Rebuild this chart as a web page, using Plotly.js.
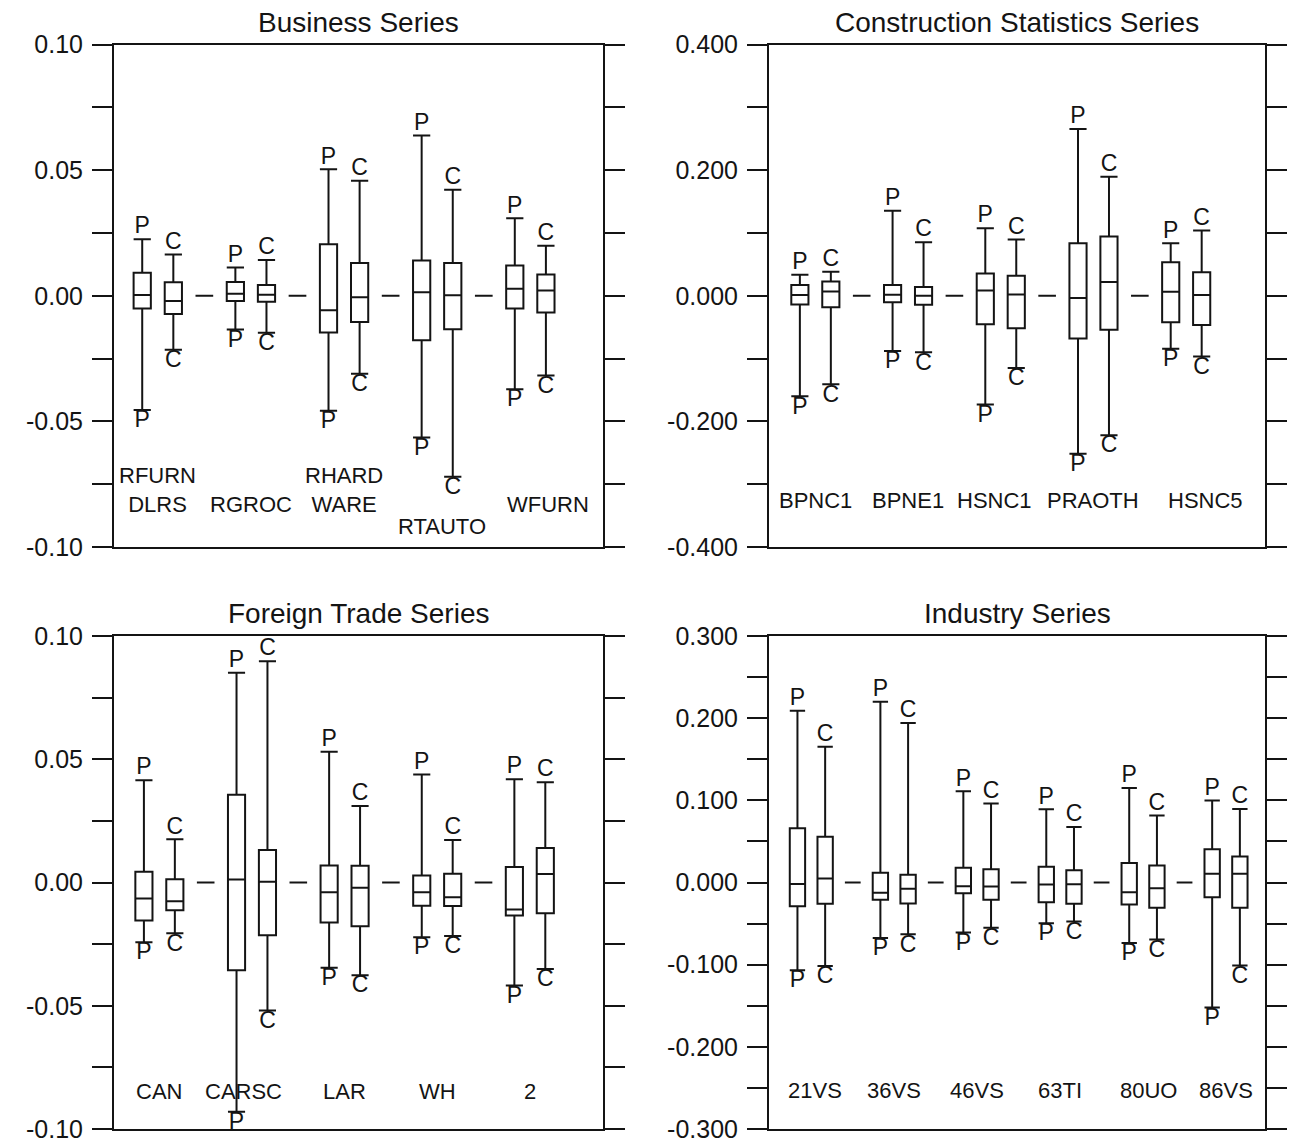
<!DOCTYPE html>
<html>
<head>
<meta charset="utf-8">
<script src="https://cdn.plot.ly/plotly-3.0.1.min.js"></script>
<style>
  html, body { margin: 0; padding: 0; background: #fff; }
  #chart { width: 1301px; height: 1146px; }
</style>
</head>
<body>
<div id="chart"></div>
<script>
// Each row: [lower whisker, Q1, median, Q3, upper whisker]
const businessSeries = ['RFURN<br>DLRS', 'RGROC', 'RHARD<br>WARE', 'RTAUTO', 'WFURN'];
const businessP = [
  [-0.0455, -0.0051, 0.0003, 0.0092, 0.0225],
  [-0.0134, -0.0021, 0.0008, 0.0055, 0.0112],
  [-0.0458, -0.0146, -0.0058, 0.0205, 0.0503],
  [-0.0564, -0.0177, 0.0014, 0.0140, 0.0638],
  [-0.0372, -0.0051, 0.0028, 0.0120, 0.0308]
];
const businessC = [
  [-0.0215, -0.0073, -0.0021, 0.0054, 0.0164],
  [-0.0147, -0.0024, 0.0004, 0.0043, 0.0142],
  [-0.0310, -0.0104, -0.0006, 0.0130, 0.0458],
  [-0.0720, -0.0133, 0.0002, 0.0130, 0.0422],
  [-0.0317, -0.0067, 0.0021, 0.0085, 0.0199]
];

const constructionSeries = ['BPNC1', 'BPNE1', 'HSNC1', 'PRAOTH', 'HSNC5'];
const constructionP = [
  [-0.160, -0.0140, 0.0010, 0.0170, 0.0335],
  [-0.088, -0.0105, 0.0015, 0.0170, 0.1355],
  [-0.173, -0.0455, 0.0085, 0.0355, 0.1075],
  [-0.2515, -0.0680, -0.0035, 0.0835, 0.2655],
  [-0.0845, -0.0420, 0.0063, 0.0535, 0.0835]
];
const constructionC = [
  [-0.141, -0.0184, 0.0066, 0.0225, 0.0383],
  [-0.090, -0.0143, 0.0000, 0.0140, 0.0853],
  [-0.115, -0.0516, 0.0020, 0.0320, 0.0895],
  [-0.222, -0.0540, 0.0220, 0.0945, 0.1895],
  [-0.0967, -0.0466, 0.0010, 0.0375, 0.1040]
];

const foreignSeries = ['CAN', 'CARSC', 'LAR', 'WH', '2'];
const foreignP = [
  [-0.0242, -0.0154, -0.0065, 0.0044, 0.0415],
  [-0.0930, -0.0356, 0.0012, 0.0356, 0.0851],
  [-0.0346, -0.0162, -0.0040, 0.0069, 0.0530],
  [-0.0222, -0.0094, -0.0040, 0.0028, 0.0438],
  [-0.0418, -0.0134, -0.0110, 0.0063, 0.0419]
];
const foreignC = [
  [-0.0206, -0.0113, -0.0076, 0.0013, 0.0175],
  [-0.0519, -0.0214, 0.0003, 0.0132, 0.0898],
  [-0.0376, -0.0177, -0.0021, 0.0068, 0.0310],
  [-0.0217, -0.0095, -0.0060, 0.0035, 0.0172],
  [-0.0351, -0.0125, 0.0034, 0.0140, 0.0407]
];

const industrySeries = ['21VS', '36VS', '46VS', '63TI', '80UO', '86VS'];
const industryP = [
  [-0.1067, -0.0290, -0.0018, 0.0660, 0.2090],
  [-0.0675, -0.0210, -0.0125, 0.0120, 0.2200],
  [-0.0610, -0.0130, -0.0045, 0.0180, 0.1110],
  [-0.0495, -0.0240, -0.0025, 0.0193, 0.0890],
  [-0.0735, -0.0268, -0.0120, 0.0237, 0.1150],
  [-0.1520, -0.0179, 0.0107, 0.0405, 0.0998]
];
const industryC = [
  [-0.1016, -0.0259, 0.0048, 0.0558, 0.1653],
  [-0.0630, -0.0255, -0.0075, 0.0095, 0.1940],
  [-0.0550, -0.0210, -0.0050, 0.0160, 0.0960],
  [-0.0475, -0.0260, -0.0022, 0.0150, 0.0675],
  [-0.0695, -0.0307, -0.0070, 0.0206, 0.0815],
  [-0.1010, -0.0307, 0.0107, 0.0316, 0.0896]
];

// Axis tick values and labels (unlabelled ticks in between)
const pctTickVals = [-0.1, -0.075, -0.05, -0.025, 0, 0.025, 0.05, 0.075, 0.1];
const pctTickText = ['-0.10', '', '-0.05', '', '0.00', '', '0.05', '', '0.10'];
const constructionTickVals = [-0.4, -0.3, -0.2, -0.1, 0, 0.1, 0.2, 0.3, 0.4];
const constructionTickText = ['-0.400', '', '-0.200', '', '0.000', '', '0.200', '', '0.400'];
const industryTickVals = [-0.3, -0.25, -0.2, -0.15, -0.1, -0.05, 0, 0.05, 0.1, 0.15, 0.2, 0.25, 0.3];
const industryTickText = ['-0.300', '', '-0.200', '', '-0.100', '', '0.000', '', '0.100', '', '0.200', '', '0.300'];

const INK = '#141414';
const FONT = '"Liberation Sans", Arial, Helvetica, sans-serif';
const W = 1301, H = 1146;
const OFFSET = 0.167;   // P box left of group centre, C box right
const BOX_W = 0.185;
const DASH_HALF = 0.095;

const leftDom = [114 / W, 603 / W];
const rightDom = [769 / W, 1265 / W];
const topDom = [1 - 547 / H, 1 - 44.5 / H];
const botDom = [1 - 1129 / H, 1 - 636 / H];

const panels = [
  { title: 'Business Series', names: businessSeries, P: businessP, C: businessC,
    tickVals: pctTickVals, tickText: pctTickText, yRange: [-0.1, 0.1], xRange: [-0.47, 4.78],
    xDom: leftDom, yDom: topDom, labelY: 0.055, titleY: 1 - 22 / H,
    labelShift: { 3: [5, -22], 4: [18, 0] } },
  { title: 'Construction Statistics Series', names: constructionSeries, P: constructionP, C: constructionC,
    tickVals: constructionTickVals, tickText: constructionTickText, yRange: [-0.4, 0.4], xRange: [-0.5, 4.85],
    xDom: rightDom, yDom: topDom, labelY: 0.064, titleY: 1 - 22 / H,
    labelShift: { 2: [-6, 0], 4: [19, 0] } },
  { title: 'Foreign Trade Series', names: foreignSeries, P: foreignP, C: foreignC,
    tickVals: pctTickVals, tickText: pctTickText, yRange: [-0.1, 0.1], xRange: [-0.49, 4.79],
    xDom: leftDom, yDom: botDom, labelY: 0.046, titleY: 1 - 613 / H,
    labelShift: { 1: [-8, 0] } },
  { title: 'Industry Series', names: industrySeries, P: industryP, C: industryC,
    tickVals: industryTickVals, tickText: industryTickText, yRange: [-0.3, 0.3], xRange: [-0.51, 5.47],
    xDom: rightDom, yDom: botDom, labelY: 0.049, titleY: 1 - 613 / H,
    labelShift: { 0: [4, 0], 4: [5, 0] } }
];

const traces = [];
const annotations = [];
const layout = {
  width: W, height: H,
  margin: { l: 0, r: 0, t: 0, b: 0 },
  paper_bgcolor: '#fff', plot_bgcolor: '#fff',
  showlegend: false,
  boxmode: 'overlay',
  font: { family: FONT, color: INK },
  annotations: annotations
};

function boxTrace(rows, xs, ax) {
  return {
    type: 'box', orientation: 'v',
    x: xs,
    lowerfence: rows.map(r => r[0]),
    q1: rows.map(r => r[1]),
    median: rows.map(r => r[2]),
    q3: rows.map(r => r[3]),
    upperfence: rows.map(r => r[4]),
    width: BOX_W, whiskerwidth: 1,
    boxpoints: false,
    line: { color: INK, width: 2 },
    fillcolor: 'rgba(255,255,255,0)',
    hoverinfo: 'skip',
    xaxis: 'x' + ax, yaxis: 'y' + ax
  };
}

function endLabels(rows, xs, letter, ax) {
  const common = {
    type: 'scatter', mode: 'text', x: xs, cliponaxis: false,
    text: xs.map(() => letter),
    textfont: { family: FONT, size: 23, color: INK },
    hoverinfo: 'skip', xaxis: 'x' + ax, yaxis: 'y' + ax
  };
  return [
    Object.assign({}, common, { y: rows.map(r => r[4]), textposition: 'top center' }),
    Object.assign({}, common, { y: rows.map(r => r[0]), textposition: 'bottom center' })
  ];
}

panels.forEach((p, k) => {
  const ax = k === 0 ? '' : String(k + 1);
  const n = p.names.length;
  const xsP = p.names.map((_, i) => i - OFFSET);
  const xsC = p.names.map((_, i) => i + OFFSET);

  traces.push(boxTrace(p.P, xsP, ax));
  traces.push(boxTrace(p.C, xsC, ax));
  traces.push(...endLabels(p.P, xsP, 'P', ax));
  traces.push(...endLabels(p.C, xsC, 'C', ax));

  // short zero-level dashes between neighbouring groups
  const dx = [], dy = [];
  for (let i = 0; i < n - 1; i++) {
    dx.push(i + 0.5 - DASH_HALF, i + 0.5 + DASH_HALF, null);
    dy.push(0, 0, null);
  }
  traces.push({
    type: 'scatter', mode: 'lines', x: dx, y: dy,
    line: { color: INK, width: 2 }, hoverinfo: 'skip',
    xaxis: 'x' + ax, yaxis: 'y' + ax
  });

  layout['xaxis' + ax] = {
    domain: p.xDom, range: p.xRange, anchor: 'y' + ax,
    showline: true, linecolor: INK, linewidth: 2, mirror: true,
    ticks: '', showticklabels: false, showgrid: false, zeroline: false, fixedrange: true
  };
  layout['yaxis' + ax] = {
    domain: p.yDom, range: p.yRange, anchor: 'x' + ax,
    tickmode: 'array', tickvals: p.tickVals, ticktext: p.tickText,
    ticks: 'outside', ticklen: 20, tickwidth: 2, tickcolor: INK,
    showline: true, linecolor: INK, linewidth: 2, mirror: 'allticks',
    showgrid: false, zeroline: false, fixedrange: true,
    ticklabelstandoff: 4, ticklabeloverflow: 'allow',
    tickfont: { family: FONT, size: 25, color: INK }
  };

  annotations.push({
    text: p.title, xref: 'paper', yref: 'paper',
    x: (p.xDom[0] + p.xDom[1]) / 2, y: p.titleY,
    xanchor: 'center', yanchor: 'middle', showarrow: false,
    font: { family: FONT, size: 28, color: INK }
  });

  p.names.forEach((name, i) => {
    const s = p.labelShift[i] || [0, 0];
    annotations.push({
      text: name, xref: 'x' + ax, yref: 'y' + ax + ' domain',
      x: i, y: p.labelY, xanchor: 'center', yanchor: 'bottom',
      xshift: s[0], yshift: s[1], showarrow: false, align: 'center',
      font: { family: FONT, size: 22, color: INK }
    });
  });
});

Plotly.newPlot('chart', traces, layout, { staticPlot: true, displayModeBar: false });
</script>
</body>
</html>
